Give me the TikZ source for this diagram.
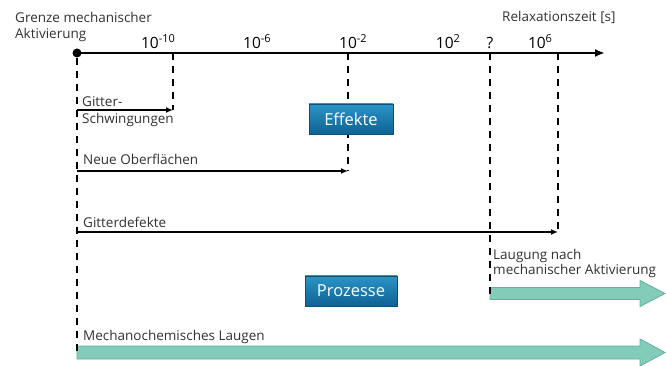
\documentclass[tikz,border=0pt]{standalone}
\usepackage{fontspec}
\setmainfont{Open Sans}
\usepackage{tikz}
\usetikzlibrary{arrows.meta,calc,positioning,shadows}
\definecolor{c1}{RGB}{42,148,198}
\definecolor{c2}{RGB}{16,98,148}
\definecolor{c3}{RGB}{132,204,186}
\definecolor{c4}{RGB}{92,178,154}
\definecolor{c5}{RGB}{50,50,50}
\newcommand{\tenpow}[1]{10\raisebox{0.8ex}{\fontsize{11}{11}\selectfont #1}}
\tikzset{
  tag/.style={draw=c2!80!black, top color=c1, bottom color=c2, text=white, font=\fontsize{16.5}{18}\selectfont, minimum height=30pt, inner sep=0pt, drop shadow={opacity=0.35, shadow xshift=1pt, shadow yshift=-1.5pt}},
  note/.style={font=\fontsize{13.5}{16}\selectfont, text=c5, inner sep=0pt, align=left},
  tickno/.style={font=\fontsize{15.5}{18}\selectfont, inner sep=0pt, anchor=base},
  edge/.style={-{Latex[length=7pt,width=6pt]}, line width=1.6pt},
  guide/.style={dash pattern=on 7pt off 6pt, line width=2.2pt},
  flow/.style={fill=c3, draw=c4, line width=0.8pt}
}

\begin{document}
\begin{tikzpicture}[x=1pt, y=-1pt]
    \useasboundingbox (0,0) rectangle (666,366);
    \node [circle, fill, inner sep=0pt, minimum size=9pt] (start) at (77,53) {};
    \coordinate (axisend) at (605,53);
    \coordinate (t10) at (173,53);
    \coordinate (t2) at (348,53);
    \coordinate (tq) at (490,53);
    \coordinate (t6) at (558,53);
    \coordinate (gs0) at (77,110);
    \coordinate (gs1) at (173,110);
    \coordinate (no0) at (77,171);
    \coordinate (no1) at (348,171);
    \coordinate (gd0) at (77,232);
    \coordinate (gd1) at (558,232);
    \coordinate (la0) at (490,293.5);
    \coordinate (la1) at (665,293.5);
    \coordinate (mc0) at (77,352.5);
    \coordinate (mc1) at (665,352.5);

    \node [tickno] (n10) at (158,49) {\tenpow{-10}};
    \node [tickno] (n6) at (257,49) {\tenpow{-6}};
    \node [tickno] (n2) at (353,49) {\tenpow{-2}};
    \node [tickno] (p2) at (448,49) {\tenpow{2}};
    \node [tickno] (nq) at (490,49) {?};
    \node [tickno] (p6) at (540,49) {\tenpow{6}};

    \node [note, anchor=north west] (grenze) at (15,12) {Grenze mechanischer\\Aktivierung};
    \node [note, anchor=base west] (relax) at (502,22) {Relaxationszeit [s]};
    \node [note, anchor=north west, font=\fontsize{13.5}{17}\selectfont] (gitter) at (82,96) {Gitter-\\Schwingungen};
    \node [note, anchor=base west] (neue) at (83,165) {Neue Oberflächen};
    \node [note, anchor=base west] (defekte) at (83,227) {Gitterdefekte};
    \node [note, anchor=north west, font=\fontsize{13.5}{15}\selectfont] (laugung) at (493,249) {Laugung nach\\mechanischer Aktivierung};
    \node [note, anchor=base west] (mecha) at (83,340) {Mechanochemisches Laugen};

    \draw [flow] ($(la0)+(0,-6)$) -- ($(la1)+(-25,-6)$) -- ($(la1)+(-25,-13)$) -- (la1)
        -- ($(la1)+(-25,13)$) -- ($(la1)+(-25,6)$) -- ($(la0)+(0,6)$) -- cycle;
    \draw [flow] ($(mc0)+(0,-6.5)$) -- ($(mc1)+(-25,-6.5)$) -- ($(mc1)+(-25,-13.5)$) -- (mc1)
        -- ($(mc1)+(-25,13.5)$) -- ($(mc1)+(-25,6.5)$) -- ($(mc0)+(0,6.5)$) -- cycle;

    \draw [guide] (start) -- (mc0);
    \draw [guide] (t10) -- (gs1);
    \draw [guide] (t2) -- (no1);
    \draw [guide] (tq) -- (la0);
    \draw [guide] (t6) -- (gd1);

    \draw [line width=2pt, -{Latex[length=10pt,width=8pt]}] (start.center) -- (axisend);
    \draw [edge] (gs0) -- (gs1);
    \draw [edge] (no0) -- (no1);
    \draw [edge] (gd0) -- (gd1);

    \node [tag, minimum width=84pt] (effekte) at (351,119) {Effekte};
    \node [tag, minimum width=92pt, below=141.5pt of effekte] (prozesse) {Prozesse};
\end{tikzpicture}
\end{document}
